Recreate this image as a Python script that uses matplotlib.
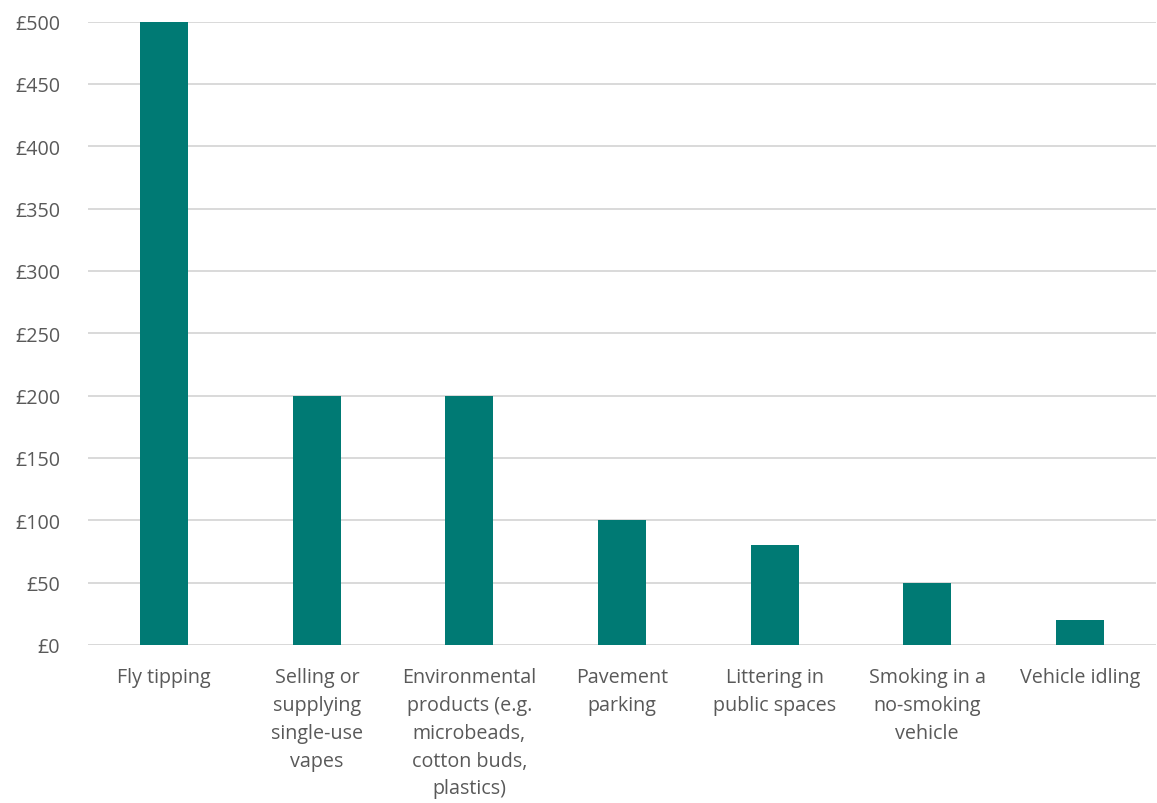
import matplotlib
matplotlib.use("Agg")
import matplotlib.pyplot as plt

categories = ["Fly tipping",
              "Selling or\nsupplying\nsingle-use\nvapes",
              "Environmental\nproducts (e.g.\nmicrobeads,\ncotton buds,\nplastics)",
              "Pavement\nparking",
              "Littering in\npublic spaces",
              "Smoking in a\nno-smoking\nvehicle",
              "Vehicle idling"]
values = [500, 200, 200, 100, 80, 50, 20]
yticks = [0, 50, 100, 150, 200, 250, 300, 350, 400, 450, 500]
ytick_labels = ["£" + str(v) for v in yticks]

plt.rcParams['font.family'] = ['Open Sans', 'DejaVu Sans']
fig = plt.figure(figsize=(11.57, 8.04), dpi=100)
ax = fig.add_axes([88/1157, 158/804, 1068/1157, 623.5/804])

x = list(range(len(categories)))
ax.bar(x, values, width=0.315, color="#007A74", zorder=3)
ax.set_xlim(-0.5, len(categories) - 0.5)
ax.set_ylim(0, 500)
ax.set_yticks(yticks)
ax.set_yticklabels(ytick_labels)
ax.set_xticks(x)
ax.set_xticklabels(categories, linespacing=1.52, va="top")
ax.tick_params(axis="both", length=0, colors="#595959", labelsize=14.2)
ax.tick_params(axis="y", pad=20)
ax.tick_params(axis="x", pad=16)
ax.grid(axis="y", color="#D9D9D9", linewidth=1.4, zorder=0)
ax.set_axisbelow(True)
for s in ax.spines.values():
    s.set_visible(False)
ax.axhline(0, color="#D9D9D9", linewidth=1.4, zorder=2)

fig.savefig("out.png", dpi=100)
